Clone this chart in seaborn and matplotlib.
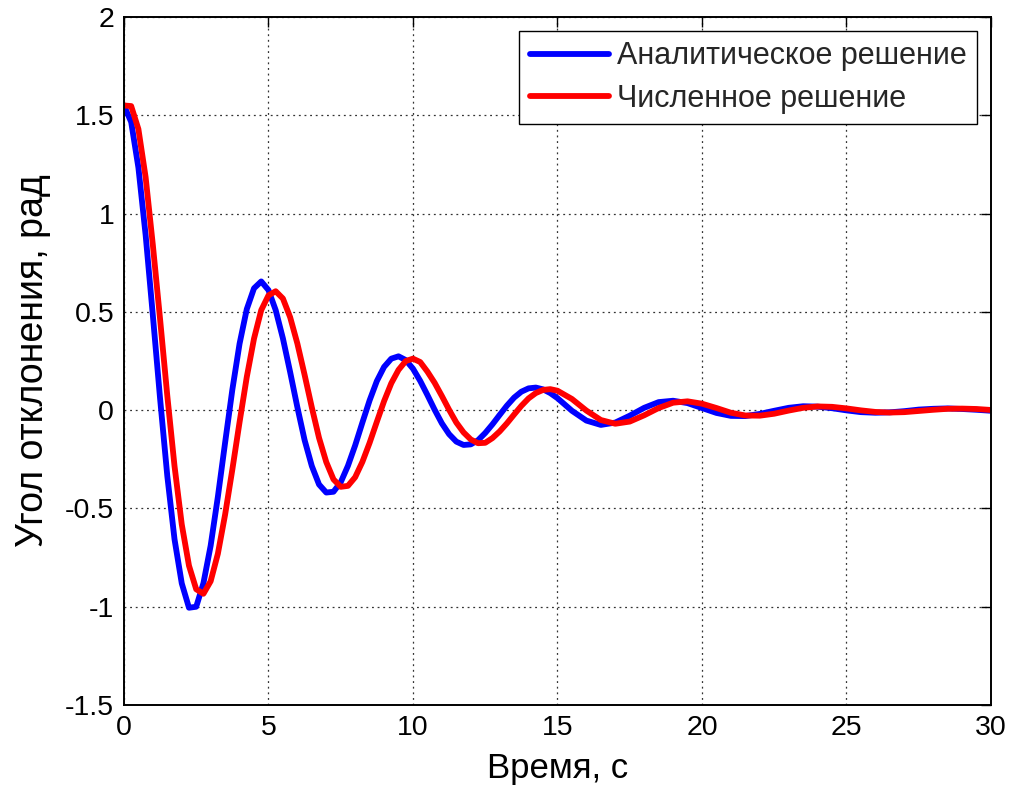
import numpy as np
import pandas as pd
import matplotlib
matplotlib.use("Agg")
import matplotlib.pyplot as plt
import seaborn as sns
from matplotlib.lines import Line2D

# ---- data ----
time_s = list(np.round(np.arange(0, 15.001, 0.25), 2)) + list(np.round(np.arange(15.5, 30.001, 0.5), 2))

analytic = [
    1.55, 1.466, 1.234, 0.891, 0.482, 0.059, -0.335, -0.657, -0.881, -1.005,
    -1.0, -0.880, -0.689, -0.440, -0.165, 0.104, 0.338, 0.514, 0.620, 0.655,
    0.611, 0.509, 0.365, 0.194, 0.015, -0.152, -0.284, -0.378, -0.419, -0.415,
    -0.367, -0.283, -0.179, -0.063, 0.050, 0.148, 0.220, 0.262, 0.274, 0.255,
    0.211, 0.149, 0.077, 0.002, -0.067, -0.122, -0.160, -0.177, -0.174, -0.153,
    -0.116, -0.072, -0.024, 0.023, 0.064, 0.094, 0.111, 0.115, 0.106, 0.087,
    0.061,
    -0.003, -0.053, -0.075, -0.063, -0.028, 0.012, 0.041, 0.048, 0.036, 0.011,
    -0.014, -0.029, -0.030, -0.019, -0.003, 0.012, 0.020, 0.018, 0.010, -0.001,
    -0.010, -0.013, -0.011, -0.005, 0.003, 0.007, 0.009, 0.006, 0.002, -0.003,
]

numeric = [
    1.55, 1.547, 1.43, 1.185, 0.840, 0.463, 0.073, -0.285, -0.581, -0.791,
    -0.911, -0.934, -0.870, -0.730, -0.531, -0.302, -0.061, 0.169, 0.364, 0.509,
    0.584, 0.605, 0.568, 0.473, 0.339, 0.180, 0.014, -0.141, -0.264, -0.352,
    -0.390, -0.385, -0.341, -0.263, -0.166, -0.059, 0.046, 0.137, 0.205, 0.250,
    0.262, 0.245, 0.196, 0.139, 0.072, 0.002, -0.063, -0.113, -0.149, -0.168,
    -0.166, -0.142, -0.108, -0.067, -0.022, 0.022, 0.060, 0.087, 0.103, 0.107,
    0.099,
    0.057, -0.002, -0.050, -0.069, -0.058, -0.026, 0.011, 0.038, 0.045, 0.033,
    0.011, -0.013, -0.027, -0.028, -0.018, -0.002, 0.012, 0.019, 0.017, 0.009,
    -0.001, -0.009, -0.012, -0.010, -0.004, 0.002, 0.007, 0.008, 0.006, 0.001,
]

series_names = ["Аналитическое решение", "Численное решение"]
series_colors = ["#0000ff", "#ff0000"]
x_ticks = [0, 5, 10, 15, 20, 25, 30]
x_tick_labels = ["0", "5", "10", "15", "20", "25", "30"]
y_ticks = [-1.5, -1, -0.5, 0, 0.5, 1, 1.5, 2]
y_tick_labels = ["-1.5", "-1", "-0.5", "0", "0.5", "1", "1.5", "2"]
x_label = "Время, с"
y_label = "Угол отклонения, рад"

# ---- build table ----
df = pd.DataFrame({
    "t": time_s + time_s,
    "v": analytic + numeric,
    "series": [series_names[0]] * len(time_s) + [series_names[1]] * len(time_s),
})

sns.set_style("white")
plt.rcParams["font.family"] = ["Liberation Sans", "DejaVu Sans"]

fig = plt.figure(figsize=(10.16, 7.92), dpi=100)
ax = fig.add_axes([0.1220, 0.1098, 0.8534, 0.8687])

palette = dict(zip(series_names, series_colors))
sns.lineplot(data=df, x="t", y="v", hue="series", hue_order=series_names,
             palette=palette, linewidth=4.2, ax=ax, legend=False,
             estimator=None, sort=True)

ax.set_xlim(0, 30)
ax.set_ylim(-1.5, 2)
ax.set_xticks(x_ticks)
ax.set_xticklabels(x_tick_labels)
ax.set_yticks(y_ticks)
ax.set_yticklabels(y_tick_labels)

ax.grid(True, linestyle=(0, (1.5, 3)), color="#333333", linewidth=0.9)
ax.set_axisbelow(True)

for sp in ax.spines.values():
    sp.set_visible(True)
    sp.set_color("black")
    sp.set_linewidth(1.4)

ax.tick_params(direction="in", top=True, right=True, length=7, width=1,
               labelsize=20.5, pad=7, colors="black")

ax.set_xlabel(x_label, fontsize=25, labelpad=8, color="black")
ax.set_ylabel(y_label, fontsize=27, labelpad=10, color="black")

handles = [Line2D([0], [0], color=c, lw=4.2) for c in series_colors]
leg = ax.legend(handles, series_names, loc="upper right", fontsize=22,
                frameon=True, fancybox=False, framealpha=1, edgecolor="black",
                handlelength=2.6, handletextpad=0.25, labelspacing=0.4,
                borderpad=0.35, borderaxespad=0.45)
leg.get_frame().set_linewidth(1.0)

fig.savefig("out.png", dpi=100)
